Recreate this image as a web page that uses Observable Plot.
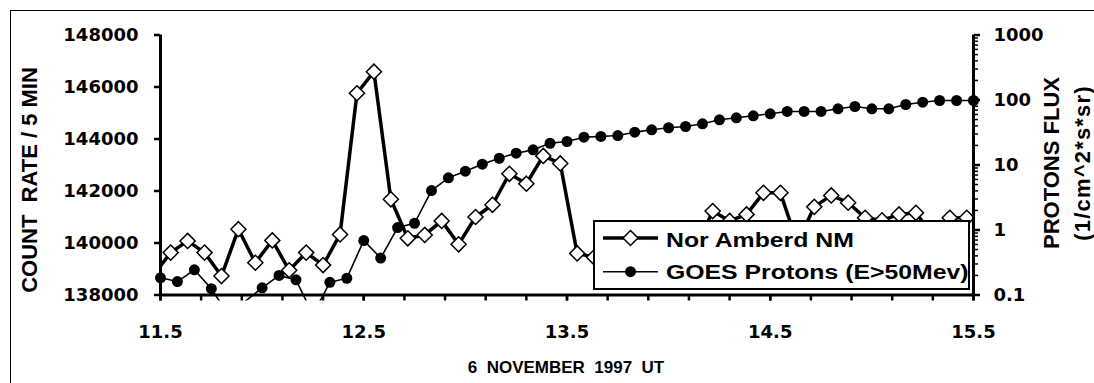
<!DOCTYPE html>
<html><head><meta charset="utf-8">
<script src="https://cdn.jsdelivr.net/npm/d3@7"></script>
<script src="https://cdn.jsdelivr.net/npm/@observablehq/plot@0.6"></script>
<style>
html,body{margin:0;padding:0;background:#fff;}
#chart{position:relative;width:1094px;height:383px;overflow:hidden;background:#fff;}
#chart svg.plot{position:absolute;left:0;top:0;}
.frame{position:absolute;left:10px;top:10px;width:1300px;height:600px;border-left:1.5px solid #000;border-top:1.5px solid #000;}
.t{position:absolute;font-family:"Liberation Sans",Arial,sans-serif;font-weight:bold;color:#000;white-space:pre;line-height:1;}
.rot{transform:translate(-50%,-50%) rotate(-90deg);}
.legend{position:absolute;box-sizing:border-box;background:#fff;border:2px solid #000;}
.lt{transform-origin:0 50%;transform:scaleX(1.24);font-size:20px;}
</style>
</head><body>
<div id="chart"></div>
<script>
// ---- data ----
const nmTimes = ["11:28","11:33","11:38","11:43","11:48","11:53","11:58","12:03","12:08","12:13",
  "12:18","12:23","12:28","12:33","12:38","12:43","12:48","12:53","12:58","13:03",
  "13:08","13:13","13:18","13:23","13:28","13:33","13:38","13:43","13:48","13:53",
  "13:58","14:03","14:08","14:13","14:18","14:23","14:28","14:33","14:38","14:43",
  "14:48","14:53","14:58","15:03","15:08","15:13","15:18","15:23","15:28"];
const nmCounts = [138770,139630,140080,139630,138730,140530,139240,140100,138950,139630,
  139150,140330,145760,146590,141680,140180,140310,140850,139950,141000,
  141470,142660,142280,143350,143060,139600,139450,139300,139800,139500,
  139900,140200,139750,141230,140850,141100,141930,141930,140000,141390,
  141830,141550,140970,140870,141100,141160,140300,140970,140970];
const goesTimes = ["11:30","11:35","11:40","11:45","11:50","11:55","12:00","12:05","12:10","12:15",
  "12:20","12:25","12:30","12:35","12:40","12:45","12:50","12:55","13:00","13:05",
  "13:10","13:15","13:20","13:25","13:30","13:35","13:40","13:45","13:50","13:55",
  "14:00","14:05","14:10","14:15","14:20","14:25","14:30","14:35","14:40","14:45",
  "14:50","14:55","15:00","15:05","15:10","15:15","15:20","15:25","15:30"];
const goesFlux = [0.184,0.161,0.244,0.125,0.05,0.08,0.129,0.2,0.171,0.05,
  0.157,0.181,0.689,0.37,1.09,1.27,4.05,6.36,8.03,10.3,
  12.7,15.2,17.1,21.6,23.0,26.8,27.5,28.4,32.0,34.8,
  37.4,39.1,43.0,49.6,53.2,57.1,61.4,66.6,66.6,66.6,
  73.3,79.4,73.3,73.3,85.3,92.5,98.2,98.2,98.2];
const countTicks = [138000,140000,142000,144000,146000,148000];
const fluxTicks = [0.1,1,10,100,1000];
const fluxMinorTicks = [0.2,0.3,0.4,0.5,0.6,0.7,0.8,0.9,2,3,4,5,6,7,8,9,20,30,40,50,60,70,80,90,200,300,400,500,600,700,800,900];
const hourLabelTicks = [11.5,12.5,13.5,14.5,15.5];
const hourMinorTicks = [11.5,11.7,11.9,12.1,12.3,12.5,12.7,12.9,13.1,13.3,13.5,13.7,13.9,14.1,14.3,14.5,14.7,14.9,15.1,15.3,15.5];
const seriesNames = ["Nor Amberd NM","GOES Protons (E>50Mev)"];

// ---- build ----
const toHours = s => { const [h, m] = s.split(":").map(Number); return h + m / 60; };
const nm = nmTimes.map((t, i) => ({x: toHours(t), y: nmCounts[i]}));
const goes = goesTimes.map((t, i) => ({x: toHours(t), y: goesFlux[i]}));

const W = 1094, H = 383, mL = 160, mR = 121, mT = 34.5, mB = 88.5;
const base = {
  width: W, height: H, marginLeft: mL, marginRight: mR, marginTop: mT, marginBottom: mB
};
const textStyle = {fontFamily: "DejaVu Sans", fontSize: "18px", fontWeight: "bold", color: "#000", overflow: "visible"};

const plotNM = Plot.plot({
  ...base,
  style: {...textStyle, background: "#fff"},
  x: {domain: [11.5, 15.5]},
  y: {domain: [138000, 148000]},
  marks: [
    Plot.axisY({ticks: countTicks, tickSize: 6, tickPadding: 16, tickFormat: d => String(d), strokeWidth: 2.5, label: null}),
    Plot.axisX({ticks: hourMinorTicks, tickSize: 6, tickFormat: () => "", strokeWidth: 2.5, label: null}),
    Plot.axisX({ticks: hourLabelTicks, tickSize: 6, tickPadding: 24, tickFormat: d => d.toFixed(1), strokeWidth: 2.5, label: null}),
    Plot.line(nm, {x: "x", y: "y", stroke: "#000", strokeWidth: 3.5, clip: true}),
    Plot.dot(nm.filter(d => d.x >= 11.5), {x: "x", y: "y", symbol: "diamond2", r: 6.8, fill: "#fff", stroke: "#000", strokeWidth: 1.5}),
    Plot.ruleX([11.5], {strokeWidth: 3}),
    Plot.ruleY([138000], {strokeWidth: 3})
  ]
});

const plotGOES = Plot.plot({
  ...base,
  style: {...textStyle, background: "transparent"},
  x: {domain: [11.5, 15.5], axis: null},
  y: {type: "log", domain: [0.1, 1000]},
  marks: [
    Plot.axisY({anchor: "right", ticks: fluxMinorTicks, tickSize: 4, tickFormat: () => "", strokeWidth: 1.5, label: null}),
    Plot.axisY({anchor: "right", ticks: fluxTicks, tickSize: 6, tickPadding: 14, tickFormat: d => String(d), strokeWidth: 2.5, label: null}),
    Plot.line(goes, {x: "x", y: "y", stroke: "#000", strokeWidth: 1.6, clip: true}),
    Plot.dot(goes.filter(d => d.y >= 0.1), {x: "x", y: "y", r: 5.5, fill: "#000", stroke: "none"}),
    Plot.ruleX([15.5], {strokeWidth: 3})
  ]
});

const chart = document.getElementById("chart");
for (const p of [plotNM, plotGOES]) {
  p.classList.add("plot");
  // let out-of-range lines run a few pixels past the bottom axis, as in the original
  p.querySelectorAll("clipPath rect").forEach(r => {
    const h = +r.getAttribute("height");
    if (h) r.setAttribute("height", h + 6);
  });
  chart.appendChild(p);
}

function addDiv(cls, text, css) {
  const d = document.createElement("div");
  d.className = cls;
  if (text != null) d.textContent = text;
  Object.assign(d.style, css);
  chart.appendChild(d);
  return d;
}
addDiv("frame", null, {});
addDiv("t rot", "COUNT  RATE / 5 MIN", {left: "30px", top: "180px", fontSize: "22px"});
addDiv("t rot", "PROTONS FLUX", {left: "1052px", top: "163px", fontSize: "22px"});
addDiv("t rot", "(1/cm^2*s*sr)", {left: "1083px", top: "163px", fontSize: "22px", letterSpacing: "1.2px"});
addDiv("t", "6  NOVEMBER  1997  UT", {left: "566px", top: "367px", fontSize: "17px", transform: "translate(-50%,-50%)"});

// legend
addDiv("legend", null, {left: "592.5px", top: "220px", width: "377px", height: "70px"});
const ns = "http://www.w3.org/2000/svg";
const lsvg = document.createElementNS(ns, "svg");
lsvg.setAttribute("width", 70); lsvg.setAttribute("height", 60);
Object.assign(lsvg.style, {position: "absolute", left: "596px", top: "224px"});
lsvg.innerHTML =
  '<line x1="7" x2="62" y1="14" y2="14" stroke="#000" stroke-width="3.5"/>' +
  '<path d="M34.5,6.5 L42,14 L34.5,21.5 L27,14 Z" fill="#fff" stroke="#000" stroke-width="1.5"/>' +
  '<line x1="7" x2="62" y1="47.7" y2="47.7" stroke="#000" stroke-width="1.6"/>' +
  '<circle cx="34.5" cy="47.7" r="5.5" fill="#000"/>';
chart.appendChild(lsvg);
addDiv("t lt", seriesNames[0], {left: "666px", top: "230px"});
addDiv("t lt", seriesNames[1], {left: "666px", top: "261.5px"});
</script>
</body></html>
